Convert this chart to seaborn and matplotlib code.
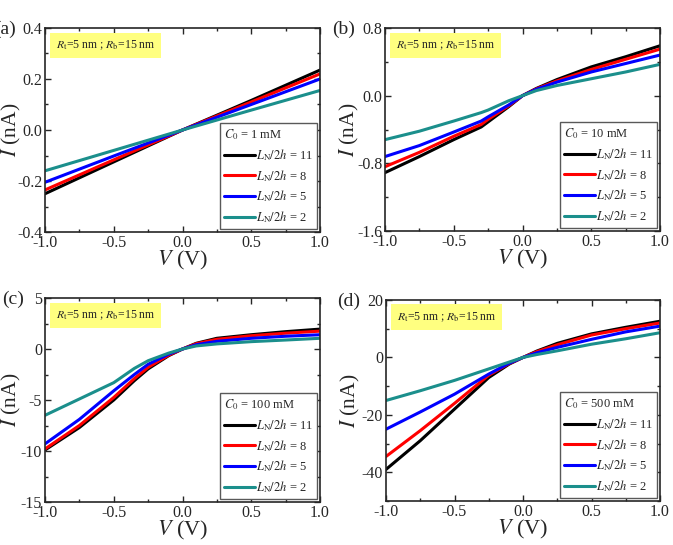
import numpy as np
import pandas as pd
import matplotlib
matplotlib.use("Agg")
import matplotlib.pyplot as plt
import seaborn as sns
from matplotlib.ticker import MultipleLocator

# Giá trị: điện áp V và dòng I cho 4 nồng độ
ratios = ["11", "8", "5", "2"]
colors = ["#000000", "#ff0000", "#0000ff", "#1b8f8c"]

V_a = [-1.0, -0.5, 0.0, 0.5, 1.0]
I_a = {
    "11": [-0.25, -0.125, 0.0, 0.116, 0.235],
    "8": [-0.235, -0.117, 0.0, 0.11, 0.22],
    "5": [-0.205, -0.102, 0.0, 0.10, 0.20],
    "2": [-0.16, -0.08, 0.0, 0.078, 0.155],
}

V_b = [-1.0, -0.75, -0.5, -0.3, -0.25, -0.1, 0.0, 0.1, 0.25, 0.5, 0.75, 1.0]
I_b = {
    "11": [-0.91, -0.72, -0.52, -0.37, -0.31, -0.13, 0.0, 0.085, 0.19, 0.34, 0.46, 0.59],
    "8": [-0.84, -0.67, -0.48, -0.34, -0.28, -0.12, 0.0, 0.08, 0.175, 0.31, 0.43, 0.55],
    "5": [-0.72, -0.59, -0.43, -0.30, -0.25, -0.11, 0.0, 0.075, 0.16, 0.28, 0.38, 0.48],
    "2": [-0.52, -0.42, -0.30, -0.20, -0.17, -0.06, 0.0, 0.06, 0.12, 0.20, 0.28, 0.37],
}

V_c = [-1.0, -0.75, -0.5, -0.35, -0.25, -0.1, 0.0, 0.1, 0.25, 0.5, 0.75, 1.0]
I_c = {
    "11": [-9.9, -7.7, -5.0, -3.1, -1.95, -0.65, 0.0, 0.56, 1.05, 1.4, 1.7, 1.95],
    "8": [-9.8, -7.5, -4.75, -2.9, -1.8, -0.6, 0.0, 0.52, 0.95, 1.3, 1.55, 1.75],
    "5": [-9.3, -6.9, -4.1, -2.5, -1.5, -0.5, 0.0, 0.42, 0.75, 1.05, 1.25, 1.4],
    "2": [-6.5, -4.9, -3.3, -1.9, -1.15, -0.4, 0.0, 0.3, 0.5, 0.72, 0.88, 1.05],
}

V_d = [-1.0, -0.75, -0.5, -0.25, -0.1, 0.0, 0.1, 0.25, 0.5, 0.75, 1.0]
I_d = {
    "11": [-39.0, -29.0, -18.0, -7.0, -2.3, 0.0, 2.2, 4.9, 8.2, 10.5, 12.6],
    "8": [-34.5, -25.5, -16.0, -6.2, -2.1, 0.0, 2.0, 4.4, 7.8, 10.0, 12.0],
    "5": [-25.0, -19.0, -12.8, -5.8, -2.0, 0.0, 1.6, 3.5, 6.3, 8.9, 10.9],
    "2": [-15.0, -11.6, -8.0, -4.0, -1.6, 0.0, 1.0, 2.3, 4.6, 6.5, 8.6],
}

conc = ["1", "10", "100", "500"]
panel_tags = ["(a)", "(b)", "(c)", "(d)"]

sns.set_style("ticks")
plt.rcParams["font.family"] = ["Liberation Serif", "DejaVu Serif"]
plt.rcParams["mathtext.fontset"] = "stix"
plt.rcParams["axes.unicode_minus"] = False
plt.rcParams["xtick.direction"] = "in"
plt.rcParams["ytick.direction"] = "in"


def make_df(V, I):
    rows = []
    for r in ratios:
        for v, i in zip(V, I[r]):
            rows.append({"V": v, "I": i, "ratio": r})
    return pd.DataFrame(rows)


fig = plt.figure(figsize=(6.73, 5.45), dpi=100)
W, H = 673, 545
# vị trí các trục (pixel): left, top, right, bottom
boxes = [(45, 28, 320, 232), (385, 28, 660, 231), (45, 298, 320, 502), (386, 300, 660, 501)]
ylims = [(-0.4, 0.4), (-1.6, 0.8), (-15, 5), (-50, 20)]
ymaj = [0.2, 0.8, 5, 20]
tag_x = [-6, 332, 2, 337]
ylab_x = [23, 361, 23, 362]

datasets = [(V_a, I_a), (V_b, I_b), (V_c, I_c), (V_d, I_d)]

for k in range(4):
    l, t, r, b = boxes[k]
    ax = fig.add_axes([l / W, 1 - b / H, (r - l) / W, (b - t) / H])
    df = make_df(*datasets[k])
    sns.lineplot(data=df, x="V", y="I", hue="ratio", hue_order=ratios,
                 palette=colors, linewidth=2.2, ax=ax, sort=True)
    ax.set_xlim(-1, 1)
    ax.set_ylim(*ylims[k])
    ax.xaxis.set_major_locator(MultipleLocator(0.5))
    ax.xaxis.set_minor_locator(MultipleLocator(0.25))
    ax.yaxis.set_major_locator(MultipleLocator(ymaj[k]))
    ax.yaxis.set_minor_locator(MultipleLocator(ymaj[k] / 2))
    if k in (0, 1):
        ax.yaxis.set_major_formatter(plt.FormatStrFormatter("%.1f"))
    ax.xaxis.set_major_formatter(plt.FormatStrFormatter("%.1f"))
    ax.tick_params(which="both", top=True, right=True, labelsize=11.5, pad=2)
    ax.tick_params(which="major", length=4, width=1)
    ax.tick_params(which="minor", length=2, width=1)
    for s in ax.spines.values():
        s.set_linewidth(1.2)
    ax.set_xlabel("$V$ (V)", fontsize=16, labelpad=-1)
    ax.set_ylabel("$I$ (nA)", fontsize=15.5)
    ax.yaxis.set_label_coords((ylab_x[k] - l) / (r - l), 0.5)

    handles, _ = ax.get_legend_handles_labels()
    labels = [f"$L_\\mathrm{{N}}/2h$ = {r}" for r in ratios]
    leg = ax.legend(handles, labels, loc="lower right", fontsize=9,
                    title=f"$C_0$ = {conc[k]} mM", title_fontsize=9,
                    alignment="left", handlelength=2.5, handletextpad=0.1,
                    labelspacing=0.4, borderpad=0.3, borderaxespad=0.25,
                    fancybox=False, edgecolor="0.35", framealpha=1)
    leg.get_frame().set_linewidth(1.0)

    ax.text(0.04, 0.915, "$R_\\mathrm{t}$=5 nm ; $R_\\mathrm{b}$=15 nm",
            transform=ax.transAxes, fontsize=8.5, va="center", ha="left",
            bbox=dict(boxstyle="square,pad=0.5", facecolor="#ffff80", edgecolor="none"))

    fig.text(tag_x[k] / W, 1 - (t + 1) / H, panel_tags[k], fontsize=14,
             ha="left", va="center")

plt.savefig("out.png", dpi=100)
